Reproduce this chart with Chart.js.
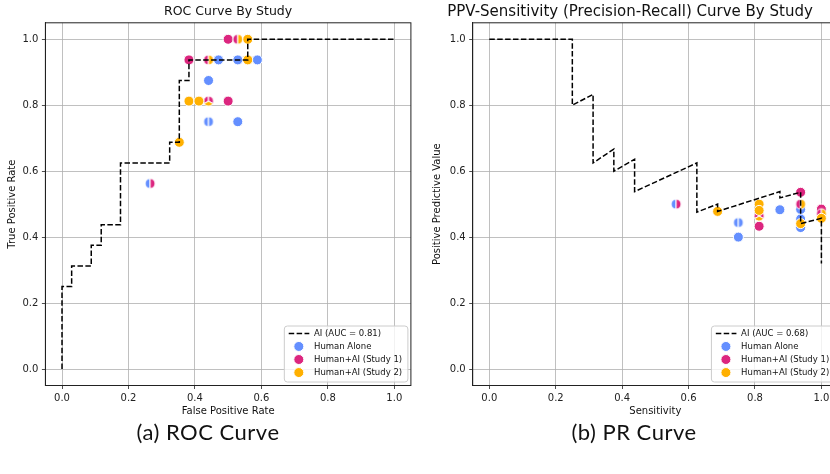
<!DOCTYPE html>
<html><head><meta charset="utf-8">
<script src="https://cdn.jsdelivr.net/npm/chart.js@4.4.0/dist/chart.umd.min.js"></script>
<style>
html,body{margin:0;padding:0;background:#fff;width:830px;height:474px;overflow:hidden;}
body{position:relative;}
#w1{position:absolute;left:0;top:0;width:420px;height:430px;}
#w2{position:absolute;left:422px;top:0;width:408px;height:430px;overflow:hidden;}
.cap{position:absolute;top:418px;font-family:Lato,"Open Sans",sans-serif;font-size:22px;letter-spacing:0.5px;color:#111;white-space:nowrap;transform:translateX(-50%);line-height:28px;}
</style></head>
<body>
<div id="w1"><canvas id="c1" width="420" height="430"></canvas></div>
<div id="w2"><canvas id="c2" width="422" height="430"></canvas></div>
<div class="cap" style="left:208px">(a) ROC Curve</div>
<div class="cap" style="left:634px">(b) PR Curve</div>
<script>
// ---- data ----
const tickValues = [0.0, 0.2, 0.4, 0.6, 0.8, 1.0];
const rocAiLabel = 'AI (AUC = 0.81)';
const prAiLabel = 'AI (AUC = 0.68)';
const seriesLabels = ['Human Alone', 'Human+AI (Study 1)', 'Human+AI (Study 2)'];

const aiRocFpr = [0, 0, 0.029, 0.029, 0.088, 0.088, 0.118, 0.118, 0.176, 0.176, 0.324, 0.324, 0.353, 0.353, 0.382, 0.382, 0.559, 0.559, 1.0];
const aiRocTpr = [0, 0.25, 0.25, 0.3125, 0.3125, 0.375, 0.375, 0.4375, 0.4375, 0.625, 0.625, 0.6875, 0.6875, 0.875, 0.875, 0.9375, 0.9375, 1.0, 1.0];
const aiPrRecall = [0, 0.25, 0.25, 0.3125, 0.3125, 0.375, 0.375, 0.4375, 0.4375, 0.625, 0.625, 0.6875, 0.6875, 0.875, 0.875, 0.9375, 0.9375, 1.0, 1.0];
const aiPrPrecision = [1.0, 1.0, 0.8, 0.833, 0.625, 0.667, 0.6, 0.636, 0.538, 0.625, 0.476, 0.5, 0.478, 0.538, 0.519, 0.536, 0.441, 0.457, 0.32];

const humanAloneRocFpr = [0.471, 0.529, 0.588, 0.441, 0.441, 0.441, 0.529, 0.265];
const humanAloneRocTpr = [0.9375, 0.9375, 0.9375, 0.875, 0.75, 0.75, 0.75, 0.5625];
const humanAlonePrRecall = [0.9375, 0.9375, 0.9375, 0.875, 0.75, 0.75, 0.75, 0.5625];
const humanAlonePrPrecision = [0.484, 0.455, 0.429, 0.483, 0.444, 0.444, 0.4, 0.5];

const study1RocFpr = [0.5, 0.529, 0.382, 0.441, 0.441, 0.441, 0.5, 0.265];
const study1RocTpr = [1.0, 1.0, 0.9375, 0.9375, 0.8125, 0.8125, 0.8125, 0.5625];
const study1PrRecall = [1.0, 1.0, 0.9375, 0.9375, 0.8125, 0.8125, 0.8125, 0.5625];
const study1PrPrecision = [0.485, 0.471, 0.536, 0.5, 0.464, 0.464, 0.433, 0.5];

const study2RocFpr = [0.529, 0.559, 0.441, 0.559, 0.382, 0.412, 0.441, 0.353];
const study2RocTpr = [1.0, 1.0, 0.9375, 0.9375, 0.8125, 0.8125, 0.8125, 0.6875];
const study2PrRecall = [1.0, 1.0, 0.9375, 0.9375, 0.8125, 0.8125, 0.8125, 0.6875];
const study2PrPrecision = [0.471, 0.457, 0.5, 0.441, 0.5, 0.481, 0.464, 0.478];

// ---- styles ----
const COLORS = ['#648FFF', '#DC267F', '#FFB000'];
const FONT = 'DejaVu Sans';
const R = 5.0;

function pts(xs, ys) { return xs.map((x, i) => ({x: x, y: ys[i]})); }

function wedge(color, a0, a1) {
  const c = document.createElement('canvas');
  c.width = 14; c.height = 14;
  const g = c.getContext('2d');
  g.beginPath(); g.moveTo(7, 7); g.arc(7, 7, R, a0, a1); g.closePath();
  g.fillStyle = color; g.fill();
  g.strokeStyle = '#ffffff'; g.lineWidth = 1; g.stroke();
  return c;
}

// overlapping markers are split into wedges (as in the reference)
function splitStyles(series) {
  const groups = {};
  series.forEach((s, si) => s.xs.forEach((x, i) => {
    const k = x + ',' + s.ys[i];
    (groups[k] = groups[k] || []).push([si, i]);
  }));
  const styles = series.map(s => s.xs.map(() => 'circle'));
  Object.values(groups).forEach(g => {
    if (g.length < 2) return;
    const n = g.length, step = 2 * Math.PI / n;
    const base = (270 - 360 / n) * Math.PI / 180;
    g.forEach(([si, i], k) => { styles[si][i] = wedge(COLORS[si], base + k * step, base + (k + 1) * step); });
  });
  return styles;
}

const framePlugin = {
  id: 'frame',
  afterDatasetsDraw(chart) {
    const {ctx, chartArea: a} = chart;
    ctx.save(); ctx.strokeStyle = '#222'; ctx.lineWidth = 1;
    ctx.strokeRect(a.left, a.top, a.right - a.left, a.bottom - a.top);
    ctx.restore();
  }
};

const boxLegend = {
  id: 'boxLegend',
  afterDraw(chart) {
    const {ctx, chartArea: a} = chart;
    const ds = chart.data.datasets;
    ctx.save();
    ctx.font = '8.5px "' + FONT + '"';
    const maxW = Math.max(...ds.map(d => ctx.measureText(d.label).width));
    const w = 29.5 + maxW + 6, h = 56;
    const x0 = a.right - 3 - w, y0 = a.bottom - 3.5 - h;
    const r = 3;
    ctx.beginPath();
    ctx.moveTo(x0 + r, y0); ctx.lineTo(x0 + w - r, y0); ctx.arcTo(x0 + w, y0, x0 + w, y0 + r, r);
    ctx.lineTo(x0 + w, y0 + h - r); ctx.arcTo(x0 + w, y0 + h, x0 + w - r, y0 + h, r);
    ctx.lineTo(x0 + r, y0 + h); ctx.arcTo(x0, y0 + h, x0, y0 + h - r, r);
    ctx.lineTo(x0, y0 + r); ctx.arcTo(x0, y0, x0 + r, y0, r); ctx.closePath();
    ctx.fillStyle = 'rgba(255,255,255,0.8)'; ctx.fill();
    ctx.strokeStyle = '#cccccc'; ctx.lineWidth = 1; ctx.stroke();
    ds.forEach((d, i) => {
      const cy = y0 + 7.4 + i * 13.05;
      if (d.showLine) {
        ctx.beginPath(); ctx.setLineDash([5.5, 2.4]); ctx.strokeStyle = '#000'; ctx.lineWidth = 1.5;
        ctx.moveTo(x0 + 4.4, cy); ctx.lineTo(x0 + 25, cy); ctx.stroke(); ctx.setLineDash([]);
      } else {
        ctx.beginPath(); ctx.arc(x0 + 14.5, cy, R, 0, 2 * Math.PI);
        ctx.fillStyle = d.backgroundColor; ctx.fill();
        ctx.strokeStyle = '#fff'; ctx.lineWidth = 1; ctx.stroke();
      }
      ctx.fillStyle = '#111'; ctx.textBaseline = 'middle'; ctx.textAlign = 'left';
      ctx.fillText(d.label, x0 + 29.7, cy + 0.5);
    });
    ctx.restore();
  }
};

function axis(title, titlePad, isX, size) {
  return {
    type: 'linear', min: -0.05, max: 1.05,
    afterBuildTicks: s => { s.ticks = tickValues.map(v => ({value: v})); },
    afterFit: s => { if (isX) s.height = size; else s.width = size; },
    grid: {color: '#b0b0b0', lineWidth: 0.8, drawTicks: true, tickLength: 3.5, tickColor: '#222', tickWidth: 0.8},
    border: {display: true, color: '#222', width: 1},
    ticks: {font: {family: FONT, size: 10}, color: '#222', padding: isX ? 3 : 3.5, maxRotation: 0, autoSkip: false,
            callback: v => Number(v).toFixed(1)},
    title: {display: true, text: title, font: {family: FONT, size: 10}, color: '#111', padding: titlePad}
  };
}

function makeChart(id, titleText, fullTitle, titleSize, aiLabel, aiX, aiY, sx, sy, xTitle, yTitle, yTitlePad, yWidth, padRight) {
  const styles = splitStyles(sx.map((xs, i) => ({xs: xs, ys: sy[i]})));
  const datasets = [{
    label: aiLabel, data: pts(aiX, aiY), showLine: true, borderColor: '#000', borderWidth: 1.5,
    borderDash: [5.5, 2.4], pointRadius: 0, fill: false, tension: 0, order: 0
  }];
  const orders = [3, 2, 1];
  seriesLabels.forEach((lab, i) => {
    datasets.push({
      label: lab, data: pts(sx[i], sy[i]), showLine: false,
      backgroundColor: COLORS[i], borderColor: '#ffffff', pointBackgroundColor: COLORS[i],
      pointBorderColor: '#ffffff', pointBorderWidth: 1, pointRadius: R, pointStyle: styles[i], order: orders[i]
    });
  });
  const lh = 1.2 * titleSize;
  return new Chart(document.getElementById(id), {
    type: 'scatter',
    data: {datasets: datasets},
    options: {
      responsive: false, animation: false, devicePixelRatio: 1,
      layout: {padding: {left: 0, right: padRight, top: 0, bottom: 0}},
      plugins: {
        legend: {display: false}, tooltip: {enabled: false},
        title: {display: true, text: titleText, fullSize: fullTitle, font: {family: FONT, size: titleSize, weight: 'normal'},
                color: '#111', padding: {top: 12 - lh / 2, bottom: 22.8 - lh - (12 - lh / 2)}}
      },
      scales: {
        x: axis(xTitle, {top: 0, bottom: 13}, true, 44.5),
        y: axis(yTitle, {top: yTitlePad, bottom: 0}, false, yWidth)
      }
    },
    plugins: [framePlugin, boxLegend]
  });
}

makeChart('c1', 'ROC Curve By Study', false, 12.5, rocAiLabel, aiRocFpr, aiRocTpr,
  [humanAloneRocFpr, study1RocFpr, study2RocFpr], [humanAloneRocTpr, study1RocTpr, study2RocTpr],
  'False Positive Rate', 'True Positive Rate', 6, 45.4, 9.1);

makeChart('c2', 'PPV-Sensitivity (Precision-Recall) Curve By Study', true, 15, prAiLabel, aiPrRecall, aiPrPrecision,
  [humanAlonePrRecall, study1PrRecall, study2PrRecall], [humanAlonePrPrecision, study1PrPrecision, study2PrPrecision],
  'Sensitivity', 'Positive Predictive Value', 9, 50.7, 6);
</script>
</body></html>
